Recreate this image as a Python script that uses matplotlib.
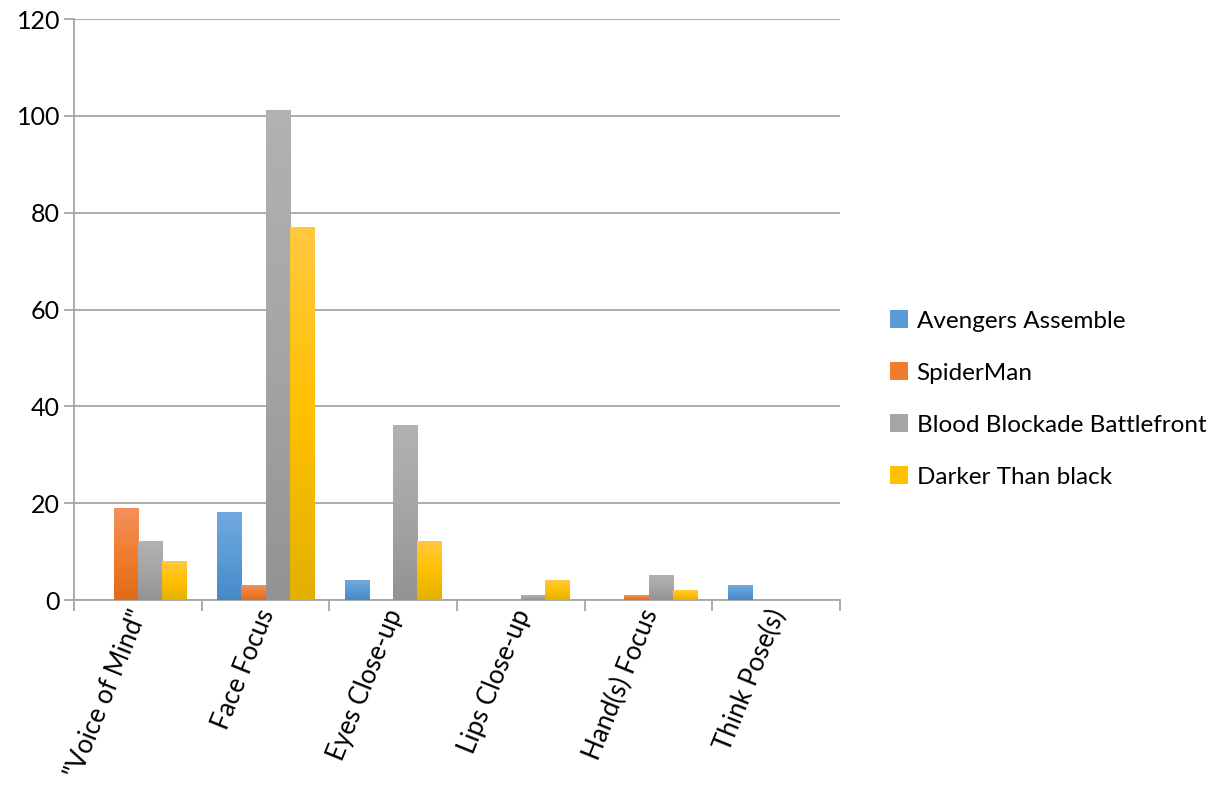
import numpy as np
import matplotlib
matplotlib.use("Agg")
from matplotlib import pyplot as plt
from matplotlib.colors import LinearSegmentedColormap
from matplotlib.patches import Patch

categories = ['"Voice of Mind"', "Face Focus", "Eyes Close-up",
              "Lips Close-up", "Hand(s) Focus", "Think Pose(s)"]
series = ["Avengers Assemble", "SpiderMan",
          "Blood Blockade Battlefront", "Darker Than black"]
avengers = [0, 18, 4, 0, 0, 3]
spiderman = [19, 3, 0, 0, 1, 0]
blood = [12, 101, 36, 1, 5, 0]
darker = [8, 77, 12, 4, 2, 0]
values = [avengers, spiderman, blood, darker]

# top / middle / bottom colours of each bar gradient
gradients = [
    ["#72aae0", "#5b9bd5", "#4788c8"],
    ["#f2925e", "#f07d2e", "#e26a1a"],
    ["#b2b2b2", "#a5a5a5", "#939393"],
    ["#ffc940", "#ffc000", "#e2b000"],
]

plt.rcParams["font.family"] = ["Lato", "DejaVu Sans"]

fig = plt.figure(figsize=(12.17, 7.85), dpi=100)
ax = fig.add_axes([74 / 1217, 1 - 600 / 785, 766 / 1217, 581 / 785])

n = len(categories)
width = 0.19
x = np.arange(n)
grad = np.linspace(1, 0, 256).reshape(-1, 1)

for i, (vals, cols) in enumerate(zip(values, gradients)):
    cmap = LinearSegmentedColormap.from_list(series[i], cols[::-1])
    offs = (i - 1.5) * width
    for xi, v in zip(x, vals):
        if v <= 0:
            continue
        left = xi + offs - width / 2
        ax.imshow(grad, cmap=cmap, aspect="auto", zorder=3,
                  extent=(left, left + width, 0, v), interpolation="bicubic")

ax.set_xlim(-0.5, n - 0.5)
ax.set_ylim(0, 120)
ax.set_yticks(range(0, 121, 20))
ax.yaxis.grid(True, color="#a6a6a6", linewidth=1.3, zorder=0)
ax.set_axisbelow(True)

for side in ["top", "right"]:
    ax.spines[side].set_visible(False)
for side in ["left", "bottom"]:
    ax.spines[side].set_color("#a6a6a6")
    ax.spines[side].set_linewidth(1.3)

# category boundary ticks below the axis
ax.set_xticks(np.arange(-0.5, n, 1.0))
ax.set_xticklabels([])
ax.tick_params(axis="x", direction="out", length=8, color="#a6a6a6", width=1.3)
ax.tick_params(axis="y", direction="out", length=7, color="#a6a6a6", width=1.3,
               labelsize=18, pad=3)

for xi, lab in zip(x, categories):
    ax.text(xi + 0.02, -2.2, lab, rotation=68, rotation_mode="anchor",
            ha="right", va="center", fontsize=18.5,
            transform=ax.transData, clip_on=False)

handles = [Patch(facecolor=g[1], edgecolor="none") for g in gradients]
fig.legend(handles, series, loc="center left",
           bbox_to_anchor=(868 / 1217, 1 - 399 / 785),
           frameon=False, fontsize=17.5, handlelength=0.75, handleheight=0.75,
           handletextpad=0.35, labelspacing=1.26)

fig.savefig("out.png", dpi=100)
